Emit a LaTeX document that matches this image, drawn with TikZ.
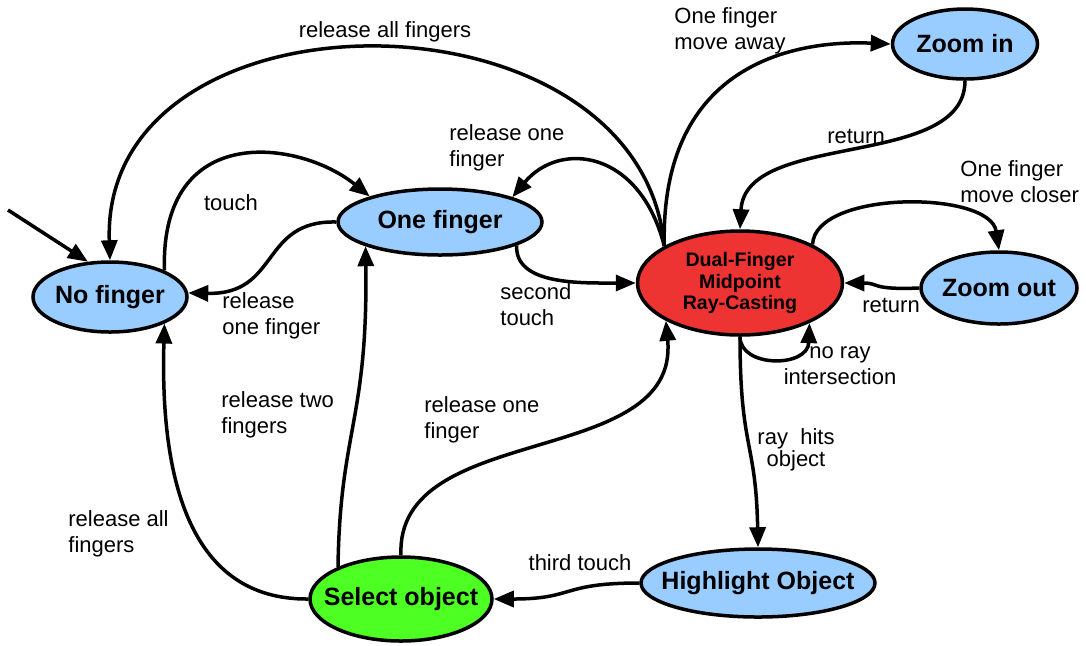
\documentclass[tikz,border=0pt]{standalone}
\usepackage{fontspec}
\setmainfont{Liberation Sans}
\usetikzlibrary{shapes.geometric,arrows.meta}
\definecolor{stateblue}{HTML}{99CCFF}
\definecolor{castred}{HTML}{EE3333}
\definecolor{selgreen}{HTML}{4DFF22}
\newcommand{\stxt}[1]{\makebox[0pt]{#1}}

\begin{document}
\begin{tikzpicture}[x=0.5pt, y=-0.5pt,
		state/.style={ellipse, draw, line width=1.75pt, fill=stateblue, inner sep=0pt,
			font=\bfseries\fontsize{12.5}{15}\selectfont},
		trans/.style={line width=1.75pt, -{Triangle[length=10pt, width=8pt]}},
		lbl/.style={font=\fontsize{11}{13}\selectfont, align=left, inner sep=0pt}]
			% \draw[help lines] (0,0) grid (1086,645);
			\useasboundingbox (0,0) rectangle (1086,645);

			\node[state, minimum width=77pt, minimum height=35pt] (nofinger) at (110,297) {\stxt{No finger}};
			\node[state, minimum width=102pt, minimum height=33pt] (onefinger) at (440,222) {\stxt{One finger}};
			\node[state, fill=castred, minimum width=102.5pt, minimum height=52pt, align=center,
				font=\bfseries\fontsize{9.8}{10.8}\selectfont] (dual) at (740,283) {Dual-Finger\\Midpoint\\Ray-Casting};
			\node[state, minimum width=72.5pt, minimum height=35pt] (zoomin) at (965,44) {\stxt{Zoom in}};
			\node[state, minimum width=78pt, minimum height=36pt] (zoomout) at (999,288) {\stxt{Zoom out}};
			\node[state, minimum width=117pt, minimum height=34pt] (highlight) at (758,583) {\stxt{Highlight Object}};
			\node[state, fill=selgreen, minimum width=91pt, minimum height=42pt] (select) at (401,599) {\stxt{Select object}};

			\coordinate (start) at (8,210);
			\draw[trans] (start) -- (nofinger.122);

			\draw[trans] (dual.154) .. controls (640,-20) and (100,-20) .. (nofinger.north);
			\draw[trans] (nofinger.26) .. controls (160,120) and (300,140) .. (onefinger.160);
			\draw[trans] (onefinger.west) .. controls (260,220) and (280,295) .. (nofinger.3);
			\draw[trans] (dual.154) .. controls (640,150) and (560,140) .. (onefinger.19);
			\draw[trans] (onefinger.-17) .. controls (515,285) and (580,283) .. (dual.west);
			\draw[trans] (dual.154) .. controls (660,60) and (800,40) .. (zoomin.west);
			\draw[trans] (zoomin.south) .. controls (965,170) and (745,130) .. (dual.north);
			\draw[trans] (dual.28) .. controls (815,190) and (990,190) .. (zoomout.north);
			\draw[trans] (zoomout.west) .. controls (870,290) and (880,283) .. (dual.east);
			\draw[trans] (dual.south) .. controls (740,368) and (808,368) .. (dual.-30);
			\draw[trans] (dual.south) .. controls (740,450) and (756,440) .. (highlight.north);
			\draw[trans] (highlight.west) .. controls (560,583) and (575,599) .. (select.east);
			\draw[trans] (select.north) .. controls (395,420) and (680,470) .. (dual.207);
			\draw[trans] (select.153) .. controls (340,430) and (368,420) .. (onefinger.198);
			\draw[trans] (select.west) .. controls (190,600) and (160,480) .. (nofinger.-26);

			\node[lbl] (lallfing) at (385,32) {release all fingers};
			\node[lbl] (ltouch) at (231,203) {touch};
			\node[lbl, anchor=west] (lreloneA) at (222,316) {release\\one finger};
			\node[lbl, anchor=west] (laway) at (674,31) {One finger\\move away};
			\node[lbl, anchor=west] (lreloneB) at (449,148) {release one\\finger};
			\node[lbl] (lretA) at (856,136) {return};
			\node[lbl, anchor=west] (lcloser) at (960,182) {One finger\\move closer};
			\node[lbl] (lretB) at (891,305) {return};
			\node[lbl, anchor=west] (lsecond) at (500,305) {second\\touch};
			\node[lbl, align=center] (lnoray) at (840,366) {no ray\\intersection};
			\node[lbl, align=center, font=\fontsize{11}{10}\selectfont] (lhits) at (796,450) {ray~ hits\\object};
			\node[lbl, anchor=west] (lreloneC) at (424,420) {release one\\finger};
			\node[lbl, anchor=west] (lreltwo) at (221,415) {release two\\fingers};
			\node[lbl, anchor=west] (lrelall) at (68,534) {release all\\fingers};
			\node[lbl] (lthird) at (580,563) {third touch};
		\end{tikzpicture}
\end{document}
